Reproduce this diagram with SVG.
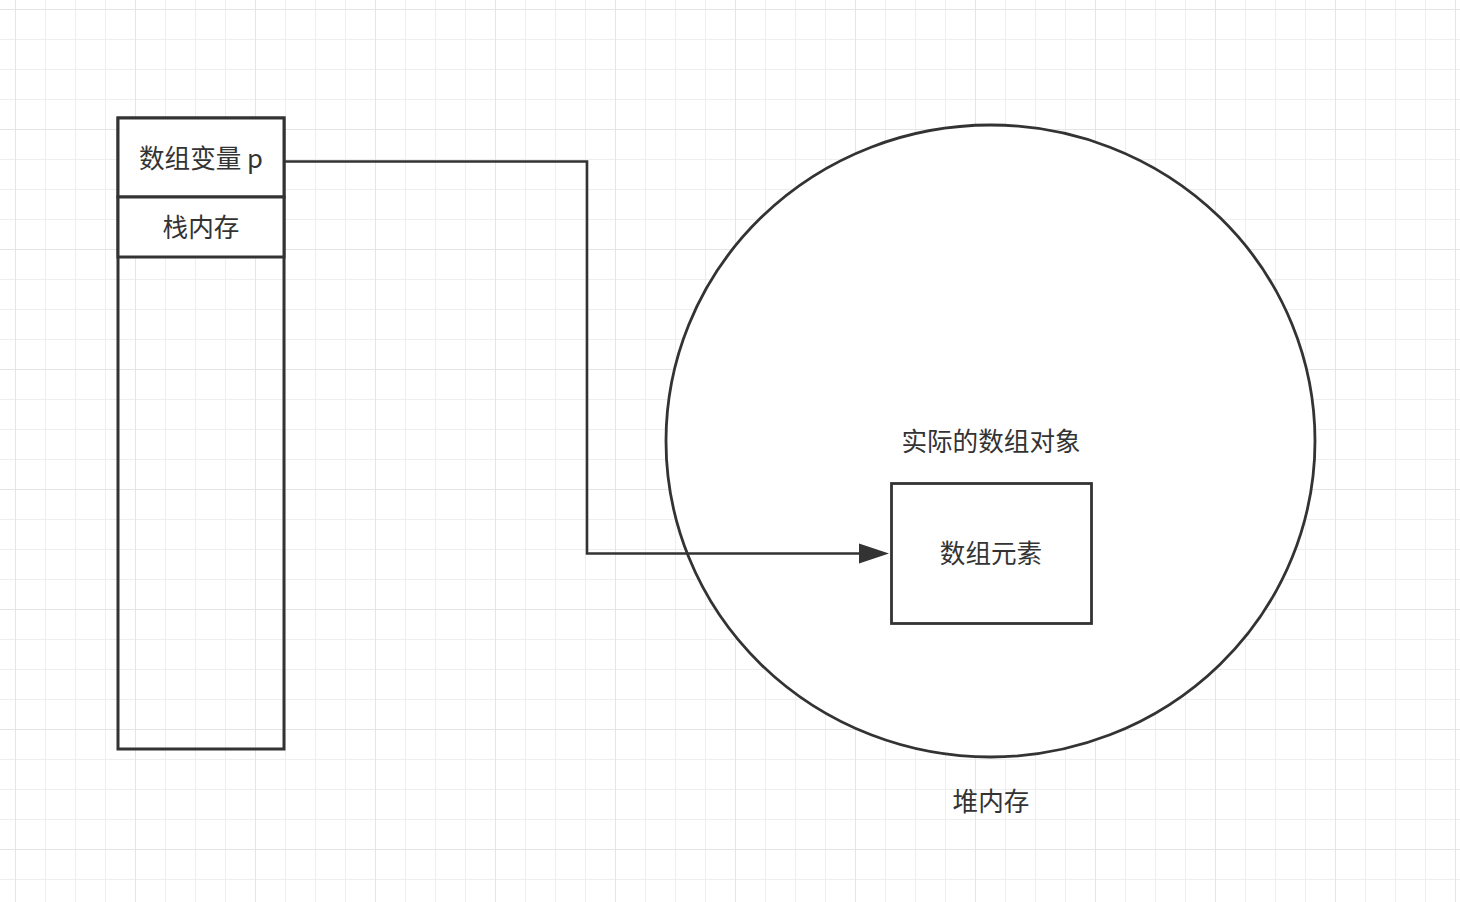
<svg xmlns="http://www.w3.org/2000/svg" width="1460" height="902" viewBox="0 0 1460 902">
<defs>
<pattern id="minor" x="15" y="9" width="30" height="30" patternUnits="userSpaceOnUse">
<path d="M0 0H30M0 0V30" fill="none" stroke="#eeeeee" stroke-width="2"/>
</pattern>
<pattern id="major" x="15" y="9" width="120" height="120" patternUnits="userSpaceOnUse">
<path d="M0 0H120M0 0V120" fill="none" stroke="#e5e5e5" stroke-width="2"/>
</pattern>
<marker id="arrow" markerWidth="32" markerHeight="24" refX="10" refY="11" orient="auto" markerUnits="userSpaceOnUse">
<path d="M0 1L30 11L0 21Z" fill="#333"/>
</marker>
</defs>
<style>
.t{font-family:"Noto Sans CJK SC","Noto Sans",sans-serif;font-size:25.6px;fill:#333;text-anchor:middle;dominant-baseline:central}
.s{fill:#fff;stroke:#333;stroke-width:3}
.n{fill:none;stroke:#333;stroke-width:3}
.c{fill:none;stroke:#333;stroke-width:2.6}
</style>
<rect width="1460" height="902" fill="#fff"/>
<rect width="1460" height="902" fill="url(#minor)"/>
<rect width="1460" height="902" fill="url(#major)"/>
<g id="stack">
<rect class="n" x="118" y="118" width="166" height="631"/>
</g>
<g id="var-p">
<rect class="s" x="118" y="118" width="166" height="79"/>
<text class="t" x="201" y="156.5">数组变量 p</text>
</g>
<g id="stack-label">
<rect class="s" x="118" y="197" width="166" height="60"/>
<text class="t" x="201" y="225.5">栈内存</text>
</g>
<g id="heap">
<ellipse cx="990.5" cy="441" rx="324.5" ry="316" fill="#fff" stroke="#333" stroke-width="2.8"/>
<text class="t" x="991" y="439.5">实际的数组对象</text>
</g>
<g id="heap-label">
<text class="t" x="991" y="799.5">堆内存</text>
</g>
<g id="element">
<rect x="891.5" y="483.5" width="200" height="140" fill="#fff" stroke="#333" stroke-width="2.8"/>
<text class="t" x="991" y="551.5">数组元素</text>
</g>
<g id="connectors">
<path d="M284 161.5H587V553.5H869" class="c" marker-end="url(#arrow)"/>
</g>
</svg>
